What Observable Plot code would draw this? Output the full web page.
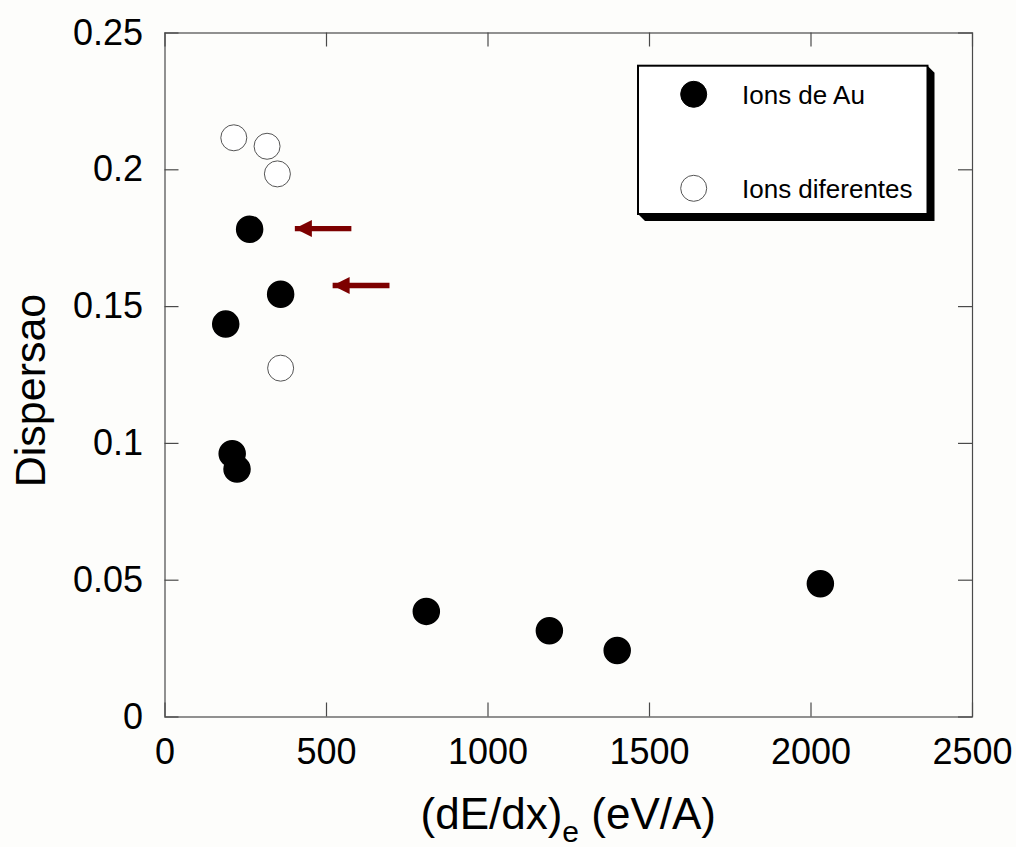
<!DOCTYPE html>
<html>
<head>
<meta charset="utf-8">
<script src="https://cdn.jsdelivr.net/npm/d3@7"></script>
<script src="https://cdn.jsdelivr.net/npm/@observablehq/plot@0.6"></script>
<style>
  html, body { margin: 0; padding: 0; background: #fdfdfb; }
  #chart { width: 1016px; height: 847px; }
</style>
</head>
<body>
<div id="chart"></div>
<script>
// Au ions
const auX = [188, 208, 223, 262, 358, 809, 1190, 1400, 2029];
const auY = [0.1436, 0.0962, 0.0906, 0.1783, 0.1545, 0.0386, 0.0315, 0.0243, 0.0487];
// other ions
const otherX = [213, 316, 348, 358];
const otherY = [0.2117, 0.2086, 0.1985, 0.1275];
// highlight arrows (tail, tip, height)
const arrowTailX = [577, 695];
const arrowTipX = [402, 519];
const arrowY = [0.1785, 0.1577];

const xTicks = [0, 500, 1000, 1500, 2000, 2500];
const yTicks = [0, 0.05, 0.1, 0.15, 0.2, 0.25];
const seriesNames = ["Ions de Au", "Ions diferentes"];
const yTitle = "Dispersao";

const au = auX.map((x, i) => ({x, y: auY[i]}));
const other = otherX.map((x, i) => ({x, y: otherY[i]}));
const arrows = arrowTipX.map((x, i) => ({tip: x, tail: arrowTailX[i], y: arrowY[i]}));

const W = 1016, H = 847;
const mL = 164.5, mR = 44, mT = 32.5, mB = 130.5;
const innerW = W - mL - mR, innerH = H - mT - mB;
const tickLen = 14;
const frameColor = "#4a4a4a";
const font = "'Liberation Sans', Arial, sans-serif";

// filled arrow head with its tip at the anchor point, pointing left
const arrowHead = {
  draw(context) {
    context.moveTo(0, 0);
    context.lineTo(17, -8.5);
    context.lineTo(17, 8.5);
    context.closePath();
  }
};

const chart = Plot.plot({
  width: W,
  height: H,
  marginLeft: mL,
  marginRight: mR,
  marginTop: mT,
  marginBottom: mB,
  style: {fontFamily: font, background: "#fdfdfb", color: "black"},
  x: {domain: [0, 2500]},
  y: {domain: [0, 0.25]},
  marks: [
    Plot.frame({stroke: frameColor, strokeWidth: 1.2}),
    // inward ticks on all four sides
    Plot.tickX(xTicks, {x: d => d, insetTop: innerH - tickLen, stroke: frameColor, strokeWidth: 1.2}),
    Plot.tickX(xTicks, {x: d => d, insetBottom: innerH - tickLen, stroke: frameColor, strokeWidth: 1.2}),
    Plot.tickY(yTicks, {y: d => d, insetRight: innerW - tickLen, stroke: frameColor, strokeWidth: 1.2}),
    Plot.tickY(yTicks, {y: d => d, insetLeft: innerW - tickLen, stroke: frameColor, strokeWidth: 1.2}),
    Plot.axisX(xTicks, {anchor: "bottom", tickSize: 0, tickPadding: 21, fontSize: 36, label: null, tickFormat: d => String(d)}),
    Plot.axisY(yTicks, {anchor: "left", tickSize: 0, tickPadding: 22, fontSize: 36, label: null, tickFormat: d => String(d)}),
    Plot.dot(other, {x: "x", y: "y", r: 13, fill: "white", stroke: "#555", strokeWidth: 1}),
    Plot.dot(au, {x: "x", y: "y", r: 13, fill: "black", stroke: "black"}),
    Plot.link(arrows, {x1: "tail", x2: "tip", y1: "y", y2: "y", stroke: "#7d0000", strokeWidth: 5.4, strokeLinecap: "butt"}),
    Plot.dot(arrows, {x: "tip", y: "y", r: 8, symbol: arrowHead, fill: "#7d0000", stroke: "none"})
  ]
});

const svg = d3.select(chart);

// x-axis title with subscript
const xt = svg.append("text")
  .attr("x", mL + innerW / 2)
  .attr("y", 829)
  .attr("text-anchor", "middle")
  .attr("font-family", font)
  .attr("font-size", 44)
  .attr("fill", "black");
xt.append("tspan").text("(dE/dx)");
xt.append("tspan").attr("dy", 13).attr("font-size", 30).text("e");
xt.append("tspan").attr("dy", -13).text(" (eV/A)");

// y-axis title
svg.append("text")
  .attr("transform", `translate(45, ${mT + innerH / 2 + 16}) rotate(-90)`)
  .attr("text-anchor", "middle")
  .attr("font-family", font)
  .attr("font-size", 43)
  .attr("fill", "black")
  .text(yTitle);

// legend box with 3D shadow
const bx = mL + innerW - 334, by = mT + 33.2, bw = 289.5, bh = 148.3, sh = 7;
const lg = svg.append("g");
lg.append("polygon")
  .attr("points", [[bx, by + bh], [bx + sh, by + bh + sh], [bx + bw + sh, by + bh + sh], [bx + bw + sh, by + sh], [bx + bw, by]].map(p => p.join(",")).join(" "))
  .attr("fill", "black");
lg.append("rect")
  .attr("x", bx).attr("y", by).attr("width", bw).attr("height", bh)
  .attr("fill", "white").attr("stroke", "black").attr("stroke-width", 2);
const legendRows = [
  {name: seriesNames[0], fill: "black", stroke: "black", dy: 28.6},
  {name: seriesNames[1], fill: "white", stroke: "#555", dy: 122.6}
];
for (const row of legendRows) {
  lg.append("circle")
    .attr("cx", bx + 55.7).attr("cy", by + row.dy).attr("r", 13)
    .attr("fill", row.fill).attr("stroke", row.stroke).attr("stroke-width", 1);
  lg.append("text")
    .attr("x", bx + 104).attr("y", by + row.dy + 9.3)
    .attr("text-anchor", "start")
    .attr("font-family", font).attr("font-size", 26).attr("fill", "black")
    .text(row.name);
}

document.getElementById("chart").appendChild(chart);
</script>
</body>
</html>
